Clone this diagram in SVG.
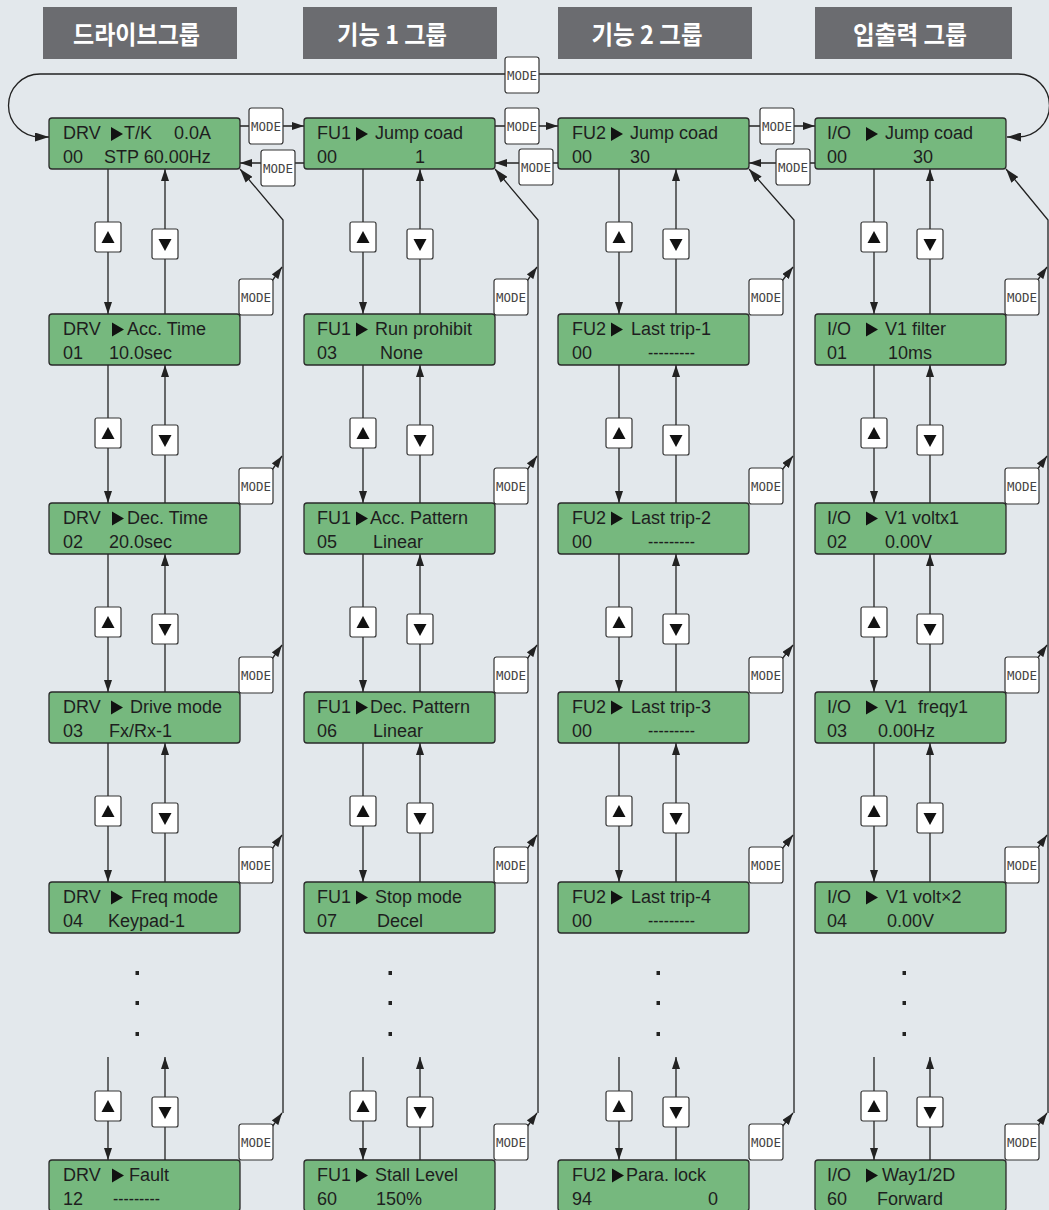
<svg xmlns="http://www.w3.org/2000/svg" width="1049" height="1210" viewBox="0 0 1049 1210">
<defs>
<style>
.hdr{fill:#6b6c70}
.ht{fill:#fff;font-family:"Noto Sans CJK KR",sans-serif;font-weight:700;font-size:25px;text-anchor:middle}
.box{fill:#76b87e;stroke:#2a2a2a;stroke-width:1.3}
.t{font-family:"Liberation Sans",Arial,sans-serif;font-size:18px;fill:#1e1e1e}
.btn{fill:#fff;stroke:#333;stroke-width:1.2}
.mt{font-family:"DejaVu Sans Mono",monospace;font-size:13px;fill:#444;text-anchor:middle}
.ln{stroke:#222;stroke-width:1.3;fill:none}
.tri{fill:#111}
.dot{fill:#222}
</style>
<marker id="ah" viewBox="0 0 12 8" refX="12" refY="4" markerWidth="12" markerHeight="8" markerUnits="userSpaceOnUse" orient="auto-start-reverse"><path d="M0,0 L12,4 L0,8 z" fill="#222"/></marker>
<marker id="ahb" viewBox="0 0 14 9" refX="14" refY="4.5" markerWidth="14" markerHeight="9" markerUnits="userSpaceOnUse" orient="auto-start-reverse"><path d="M0,0 L14,4.5 L0,9 z" fill="#222"/></marker>
<g id="mode"><rect class="btn" x="0" y="0" width="34" height="36" rx="2.5"/><text class="mt" x="17" y="23" textLength="30" lengthAdjust="spacingAndGlyphs">MODE</text></g>
<g id="up"><rect class="btn" x="0" y="0" width="26" height="30" rx="2"/><polygon class="tri" points="6.5,21 13,9 19.5,21"/></g>
<g id="dn"><rect class="btn" x="0" y="0" width="26" height="30" rx="2"/><polygon class="tri" points="6.5,10 19.5,10 13,22"/></g>
</defs>
<rect x="0" y="0" width="1049" height="1210" fill="#e3e8ec"/>

<g id="headers">
<rect class="hdr" x="43" y="7" width="194" height="52"/>
<text class="ht" x="136.5" y="44" textLength="127" lengthAdjust="spacingAndGlyphs">드라이브그룹</text>
<rect class="hdr" x="303" y="7" width="194" height="52"/>
<text class="ht" x="392" y="44" textLength="110" lengthAdjust="spacingAndGlyphs">기능 1 그룹</text>
<rect class="hdr" x="558" y="7" width="194" height="52"/>
<text class="ht" x="647" y="44" textLength="111" lengthAdjust="spacingAndGlyphs">기능 2 그룹</text>
<rect class="hdr" x="815" y="7" width="197" height="52"/>
<text class="ht" x="910" y="44" textLength="114" lengthAdjust="spacingAndGlyphs">입출력 그룹</text>
</g>

<g id="connectors">
<path class="ln" d="M49,137 L40,137 A31.5,31.5 0 0 1 40,74 L1018,74 A31.5,31.5 0 0 1 1018,137 L1007,137" marker-start="url(#ahb)" marker-end="url(#ahb)"/>
<line class="ln" x1="240" y1="126" x2="304" y2="126" marker-end="url(#ah)"/>
<line class="ln" x1="304" y1="163" x2="240" y2="163" marker-end="url(#ah)"/>
<line class="ln" x1="495" y1="126" x2="558" y2="126" marker-end="url(#ah)"/>
<line class="ln" x1="558" y1="163" x2="495" y2="163" marker-end="url(#ah)"/>
<line class="ln" x1="749" y1="126" x2="815" y2="126" marker-end="url(#ah)"/>
<line class="ln" x1="815" y1="163" x2="749" y2="163" marker-end="url(#ah)"/>

<path class="ln" d="M283,1113 L283,220 L240,169" marker-end="url(#ahb)"/>
<path class="ln" d="M538,1113 L538,220 L495,169" marker-end="url(#ahb)"/>
<path class="ln" d="M794,1113 L794,220 L749,169" marker-end="url(#ahb)"/>
<path class="ln" d="M1048,1113 L1048,220 L1006,169" marker-end="url(#ahb)"/>

<line class="ln" x1="272" y1="281" x2="282" y2="267" marker-end="url(#ah)"/>
<line class="ln" x1="272" y1="470" x2="282" y2="456" marker-end="url(#ah)"/>
<line class="ln" x1="272" y1="659" x2="282" y2="645" marker-end="url(#ah)"/>
<line class="ln" x1="272" y1="849" x2="282" y2="835" marker-end="url(#ah)"/>
<line class="ln" x1="272" y1="1127" x2="282" y2="1113" marker-end="url(#ah)"/>
<line class="ln" x1="527" y1="281" x2="537" y2="267" marker-end="url(#ah)"/>
<line class="ln" x1="527" y1="470" x2="537" y2="456" marker-end="url(#ah)"/>
<line class="ln" x1="527" y1="659" x2="537" y2="645" marker-end="url(#ah)"/>
<line class="ln" x1="527" y1="849" x2="537" y2="835" marker-end="url(#ah)"/>
<line class="ln" x1="527" y1="1127" x2="537" y2="1113" marker-end="url(#ah)"/>
<line class="ln" x1="782" y1="281" x2="793" y2="267" marker-end="url(#ah)"/>
<line class="ln" x1="782" y1="470" x2="793" y2="456" marker-end="url(#ah)"/>
<line class="ln" x1="782" y1="659" x2="793" y2="645" marker-end="url(#ah)"/>
<line class="ln" x1="782" y1="849" x2="793" y2="835" marker-end="url(#ah)"/>
<line class="ln" x1="782" y1="1127" x2="793" y2="1113" marker-end="url(#ah)"/>
<line class="ln" x1="1037" y1="281" x2="1047" y2="267" marker-end="url(#ah)"/>
<line class="ln" x1="1037" y1="470" x2="1047" y2="456" marker-end="url(#ah)"/>
<line class="ln" x1="1037" y1="659" x2="1047" y2="645" marker-end="url(#ah)"/>
<line class="ln" x1="1037" y1="849" x2="1047" y2="835" marker-end="url(#ah)"/>
<line class="ln" x1="1037" y1="1127" x2="1047" y2="1113" marker-end="url(#ah)"/>

<line class="ln" x1="108" y1="169" x2="108" y2="314" marker-end="url(#ah)"/>
<line class="ln" x1="165" y1="314" x2="165" y2="169" marker-end="url(#ah)"/>
<line class="ln" x1="108" y1="365" x2="108" y2="503" marker-end="url(#ah)"/>
<line class="ln" x1="165" y1="503" x2="165" y2="365" marker-end="url(#ah)"/>
<line class="ln" x1="108" y1="554" x2="108" y2="692" marker-end="url(#ah)"/>
<line class="ln" x1="165" y1="692" x2="165" y2="554" marker-end="url(#ah)"/>
<line class="ln" x1="108" y1="743" x2="108" y2="882" marker-end="url(#ah)"/>
<line class="ln" x1="165" y1="882" x2="165" y2="743" marker-end="url(#ah)"/>
<line class="ln" x1="108" y1="1057" x2="108" y2="1160" marker-end="url(#ah)"/>
<line class="ln" x1="165" y1="1160" x2="165" y2="1057" marker-end="url(#ah)"/>
<line class="ln" x1="363" y1="169" x2="363" y2="314" marker-end="url(#ah)"/>
<line class="ln" x1="420" y1="314" x2="420" y2="169" marker-end="url(#ah)"/>
<line class="ln" x1="363" y1="365" x2="363" y2="503" marker-end="url(#ah)"/>
<line class="ln" x1="420" y1="503" x2="420" y2="365" marker-end="url(#ah)"/>
<line class="ln" x1="363" y1="554" x2="363" y2="692" marker-end="url(#ah)"/>
<line class="ln" x1="420" y1="692" x2="420" y2="554" marker-end="url(#ah)"/>
<line class="ln" x1="363" y1="743" x2="363" y2="882" marker-end="url(#ah)"/>
<line class="ln" x1="420" y1="882" x2="420" y2="743" marker-end="url(#ah)"/>
<line class="ln" x1="363" y1="1057" x2="363" y2="1160" marker-end="url(#ah)"/>
<line class="ln" x1="420" y1="1160" x2="420" y2="1057" marker-end="url(#ah)"/>
<line class="ln" x1="619" y1="169" x2="619" y2="314" marker-end="url(#ah)"/>
<line class="ln" x1="676" y1="314" x2="676" y2="169" marker-end="url(#ah)"/>
<line class="ln" x1="619" y1="365" x2="619" y2="503" marker-end="url(#ah)"/>
<line class="ln" x1="676" y1="503" x2="676" y2="365" marker-end="url(#ah)"/>
<line class="ln" x1="619" y1="554" x2="619" y2="692" marker-end="url(#ah)"/>
<line class="ln" x1="676" y1="692" x2="676" y2="554" marker-end="url(#ah)"/>
<line class="ln" x1="619" y1="743" x2="619" y2="882" marker-end="url(#ah)"/>
<line class="ln" x1="676" y1="882" x2="676" y2="743" marker-end="url(#ah)"/>
<line class="ln" x1="619" y1="1057" x2="619" y2="1160" marker-end="url(#ah)"/>
<line class="ln" x1="676" y1="1160" x2="676" y2="1057" marker-end="url(#ah)"/>
<line class="ln" x1="874" y1="169" x2="874" y2="314" marker-end="url(#ah)"/>
<line class="ln" x1="930" y1="314" x2="930" y2="169" marker-end="url(#ah)"/>
<line class="ln" x1="874" y1="365" x2="874" y2="503" marker-end="url(#ah)"/>
<line class="ln" x1="930" y1="503" x2="930" y2="365" marker-end="url(#ah)"/>
<line class="ln" x1="874" y1="554" x2="874" y2="692" marker-end="url(#ah)"/>
<line class="ln" x1="930" y1="692" x2="930" y2="554" marker-end="url(#ah)"/>
<line class="ln" x1="874" y1="743" x2="874" y2="882" marker-end="url(#ah)"/>
<line class="ln" x1="930" y1="882" x2="930" y2="743" marker-end="url(#ah)"/>
<line class="ln" x1="874" y1="1057" x2="874" y2="1160" marker-end="url(#ah)"/>
<line class="ln" x1="930" y1="1160" x2="930" y2="1057" marker-end="url(#ah)"/>
</g>

<g id="buttons">
<use href="#mode" x="505" y="57"/>
<use href="#mode" x="249" y="108"/>
<use href="#mode" x="261" y="150"/>
<use href="#mode" x="505" y="108"/>
<use href="#mode" x="519" y="149"/>
<use href="#mode" x="760" y="108"/>
<use href="#mode" x="776" y="149"/>
<use href="#mode" x="239" y="279"/><use href="#mode" x="239" y="468"/><use href="#mode" x="239" y="657"/><use href="#mode" x="239" y="847"/><use href="#mode" x="239" y="1124"/>
<use href="#mode" x="494" y="279"/><use href="#mode" x="494" y="468"/><use href="#mode" x="494" y="657"/><use href="#mode" x="494" y="847"/><use href="#mode" x="494" y="1124"/>
<use href="#mode" x="749" y="279"/><use href="#mode" x="749" y="468"/><use href="#mode" x="749" y="657"/><use href="#mode" x="749" y="847"/><use href="#mode" x="749" y="1124"/>
<use href="#mode" x="1005" y="279"/><use href="#mode" x="1005" y="468"/><use href="#mode" x="1005" y="657"/><use href="#mode" x="1005" y="847"/><use href="#mode" x="1005" y="1124"/>
<use href="#up" x="95" y="222"/><use href="#dn" x="152" y="229"/>
<use href="#up" x="95" y="418"/><use href="#dn" x="152" y="425"/>
<use href="#up" x="95" y="607"/><use href="#dn" x="152" y="614"/>
<use href="#up" x="95" y="796"/><use href="#dn" x="152" y="803"/>
<use href="#up" x="95" y="1091"/><use href="#dn" x="152" y="1097"/>
<use href="#up" x="350" y="222"/><use href="#dn" x="407" y="229"/>
<use href="#up" x="350" y="418"/><use href="#dn" x="407" y="425"/>
<use href="#up" x="350" y="607"/><use href="#dn" x="407" y="614"/>
<use href="#up" x="350" y="796"/><use href="#dn" x="407" y="803"/>
<use href="#up" x="350" y="1091"/><use href="#dn" x="407" y="1097"/>
<use href="#up" x="606" y="222"/><use href="#dn" x="663" y="229"/>
<use href="#up" x="606" y="418"/><use href="#dn" x="663" y="425"/>
<use href="#up" x="606" y="607"/><use href="#dn" x="663" y="614"/>
<use href="#up" x="606" y="796"/><use href="#dn" x="663" y="803"/>
<use href="#up" x="606" y="1091"/><use href="#dn" x="663" y="1097"/>
<use href="#up" x="861" y="222"/><use href="#dn" x="917" y="229"/>
<use href="#up" x="861" y="418"/><use href="#dn" x="917" y="425"/>
<use href="#up" x="861" y="607"/><use href="#dn" x="917" y="614"/>
<use href="#up" x="861" y="796"/><use href="#dn" x="917" y="803"/>
<use href="#up" x="861" y="1091"/><use href="#dn" x="917" y="1097"/>
</g>

<g id="dots">
<rect class="dot" x="135.5" y="971" width="3.5" height="4"/><rect class="dot" x="135.5" y="1001" width="3.5" height="4"/><rect class="dot" x="135.5" y="1032" width="3.5" height="4"/>
<rect class="dot" x="388.5" y="971" width="3.5" height="4"/><rect class="dot" x="388.5" y="1001" width="3.5" height="4"/><rect class="dot" x="388.5" y="1032" width="3.5" height="4"/>
<rect class="dot" x="656.5" y="971" width="3.5" height="4"/><rect class="dot" x="656.5" y="1001" width="3.5" height="4"/><rect class="dot" x="656.5" y="1032" width="3.5" height="4"/>
<rect class="dot" x="902.5" y="971" width="3.5" height="4"/><rect class="dot" x="902.5" y="1001" width="3.5" height="4"/><rect class="dot" x="902.5" y="1032" width="3.5" height="4"/>
</g>

<g id="drv00"><rect class="box" x="49" y="118" width="191" height="51" rx="3"/><polygon class="tri" points="111,127 123,134 111,141"/>
<text class="t" x="63" y="139">DRV</text><text class="t" x="124" y="139">T/K</text><text class="t" x="174" y="139">0.0A</text>
<text class="t" x="63" y="163">00</text><text class="t" x="104" y="163">STP 60.00Hz</text></g>
<g id="drv01"><rect class="box" x="49" y="314" width="191" height="51" rx="3"/><polygon class="tri" points="112,322.5 124,329.5 112,336.5"/>
<text class="t" x="63" y="335">DRV</text><text class="t" x="127" y="335">Acc. Time</text>
<text class="t" x="63" y="359">01</text><text class="t" x="109" y="359">10.0sec</text></g>
<g id="drv02"><rect class="box" x="49" y="503" width="191" height="51" rx="3"/><polygon class="tri" points="112,511.5 124,518.5 112,525.5"/>
<text class="t" x="63" y="524">DRV</text><text class="t" x="127" y="524">Dec. Time</text>
<text class="t" x="63" y="548">02</text><text class="t" x="109" y="548">20.0sec</text></g>
<g id="drv03"><rect class="box" x="49" y="692" width="191" height="51" rx="3"/><polygon class="tri" points="111,700.5 123,707.5 111,714.5"/>
<text class="t" x="63" y="713">DRV</text><text class="t" x="130" y="713">Drive mode</text>
<text class="t" x="63" y="737">03</text><text class="t" x="109" y="737">Fx/Rx-1</text></g>
<g id="drv04"><rect class="box" x="49" y="882" width="191" height="51" rx="3"/><polygon class="tri" points="111,890.5 123,897.5 111,904.5"/>
<text class="t" x="63" y="903">DRV</text><text class="t" x="131" y="903">Freq mode</text>
<text class="t" x="63" y="927">04</text><text class="t" x="108" y="927">Keypad-1</text></g>
<g id="drv12"><rect class="box" x="49" y="1160" width="191" height="51" rx="3"/><polygon class="tri" points="112,1168.5 124,1175.5 112,1182.5"/>
<text class="t" x="63" y="1181">DRV</text><text class="t" x="129" y="1181">Fault</text>
<text class="t" x="63" y="1205">12</text><text class="t" x="113" y="1205" textLength="47" lengthAdjust="spacingAndGlyphs">---------</text></g>

<g id="fu100"><rect class="box" x="304" y="118" width="191" height="51" rx="3"/><polygon class="tri" points="356,127 368,134 356,141"/>
<text class="t" x="317" y="139">FU1</text><text class="t" x="375" y="139">Jump coad</text>
<text class="t" x="317" y="163">00</text><text class="t" x="415" y="163">1</text></g>
<g id="fu103"><rect class="box" x="304" y="314" width="191" height="51" rx="3"/><polygon class="tri" points="356,322.5 368,329.5 356,336.5"/>
<text class="t" x="317" y="335">FU1</text><text class="t" x="375" y="335">Run prohibit</text>
<text class="t" x="317" y="359">03</text><text class="t" x="380" y="359">None</text></g>
<g id="fu105"><rect class="box" x="304" y="503" width="191" height="51" rx="3"/><polygon class="tri" points="356,511.5 368,518.5 356,525.5"/>
<text class="t" x="317" y="524">FU1</text><text class="t" x="370" y="524">Acc. Pattern</text>
<text class="t" x="317" y="548">05</text><text class="t" x="373" y="548">Linear</text></g>
<g id="fu106"><rect class="box" x="304" y="692" width="191" height="51" rx="3"/><polygon class="tri" points="356,700.5 368,707.5 356,714.5"/>
<text class="t" x="317" y="713">FU1</text><text class="t" x="370" y="713">Dec. Pattern</text>
<text class="t" x="317" y="737">06</text><text class="t" x="373" y="737">Linear</text></g>
<g id="fu107"><rect class="box" x="304" y="882" width="191" height="51" rx="3"/><polygon class="tri" points="356,890.5 368,897.5 356,904.5"/>
<text class="t" x="317" y="903">FU1</text><text class="t" x="375" y="903">Stop mode</text>
<text class="t" x="317" y="927">07</text><text class="t" x="377" y="927">Decel</text></g>
<g id="fu160"><rect class="box" x="304" y="1160" width="191" height="51" rx="3"/><polygon class="tri" points="356,1168.5 368,1175.5 356,1182.5"/>
<text class="t" x="317" y="1181">FU1</text><text class="t" x="375" y="1181">Stall Level</text>
<text class="t" x="317" y="1205">60</text><text class="t" x="376" y="1205">150%</text></g>

<g id="fu200"><rect class="box" x="558" y="118" width="191" height="51" rx="3"/><polygon class="tri" points="611,127 623,134 611,141"/>
<text class="t" x="572" y="139">FU2</text><text class="t" x="630" y="139">Jump coad</text>
<text class="t" x="572" y="163">00</text><text class="t" x="630" y="163">30</text></g>
<g id="fu2t1"><rect class="box" x="558" y="314" width="191" height="51" rx="3"/><polygon class="tri" points="611,322.5 623,329.5 611,336.5"/>
<text class="t" x="572" y="335">FU2</text><text class="t" x="631" y="335">Last trip-1</text>
<text class="t" x="572" y="359">00</text><text class="t" x="648" y="359" textLength="47" lengthAdjust="spacingAndGlyphs">---------</text></g>
<g id="fu2t2"><rect class="box" x="558" y="503" width="191" height="51" rx="3"/><polygon class="tri" points="611,511.5 623,518.5 611,525.5"/>
<text class="t" x="572" y="524">FU2</text><text class="t" x="631" y="524">Last trip-2</text>
<text class="t" x="572" y="548">00</text><text class="t" x="648" y="548" textLength="47" lengthAdjust="spacingAndGlyphs">---------</text></g>
<g id="fu2t3"><rect class="box" x="558" y="692" width="191" height="51" rx="3"/><polygon class="tri" points="611,700.5 623,707.5 611,714.5"/>
<text class="t" x="572" y="713">FU2</text><text class="t" x="631" y="713">Last trip-3</text>
<text class="t" x="572" y="737">00</text><text class="t" x="648" y="737" textLength="47" lengthAdjust="spacingAndGlyphs">---------</text></g>
<g id="fu2t4"><rect class="box" x="558" y="882" width="191" height="51" rx="3"/><polygon class="tri" points="611,890.5 623,897.5 611,904.5"/>
<text class="t" x="572" y="903">FU2</text><text class="t" x="631" y="903">Last trip-4</text>
<text class="t" x="572" y="927">00</text><text class="t" x="648" y="927" textLength="47" lengthAdjust="spacingAndGlyphs">---------</text></g>
<g id="fu294"><rect class="box" x="558" y="1160" width="191" height="51" rx="3"/><polygon class="tri" points="612,1168.5 624,1175.5 612,1182.5"/>
<text class="t" x="572" y="1181">FU2</text><text class="t" x="626" y="1181">Para. lock</text>
<text class="t" x="572" y="1205">94</text><text class="t" x="708" y="1205">0</text></g>

<g id="io00"><rect class="box" x="815" y="118" width="191" height="51" rx="3"/><polygon class="tri" points="866,127 878,134 866,141"/>
<text class="t" x="827" y="139">I/O</text><text class="t" x="885" y="139">Jump coad</text>
<text class="t" x="827" y="163">00</text><text class="t" x="913" y="163">30</text></g>
<g id="io01"><rect class="box" x="815" y="314" width="191" height="51" rx="3"/><polygon class="tri" points="866,322.5 878,329.5 866,336.5"/>
<text class="t" x="827" y="335">I/O</text><text class="t" x="885" y="335">V1 filter</text>
<text class="t" x="827" y="359">01</text><text class="t" x="888" y="359">10ms</text></g>
<g id="io02"><rect class="box" x="815" y="503" width="191" height="51" rx="3"/><polygon class="tri" points="866,511.5 878,518.5 866,525.5"/>
<text class="t" x="827" y="524">I/O</text><text class="t" x="885" y="524">V1 voltx1</text>
<text class="t" x="827" y="548">02</text><text class="t" x="885" y="548">0.00V</text></g>
<g id="io03"><rect class="box" x="815" y="692" width="191" height="51" rx="3"/><polygon class="tri" points="866,700.5 878,707.5 866,714.5"/>
<text class="t" x="827" y="713">I/O</text><text class="t" x="885" y="713">V1</text><text class="t" x="918" y="713">freqy1</text>
<text class="t" x="827" y="737">03</text><text class="t" x="878" y="737">0.00Hz</text></g>
<g id="io04"><rect class="box" x="815" y="882" width="191" height="51" rx="3"/><polygon class="tri" points="866,890.5 878,897.5 866,904.5"/>
<text class="t" x="827" y="903">I/O</text><text class="t" x="886" y="903">V1 volt×2</text>
<text class="t" x="827" y="927">04</text><text class="t" x="887" y="927">0.00V</text></g>
<g id="io60"><rect class="box" x="815" y="1160" width="191" height="51" rx="3"/><polygon class="tri" points="866,1168.5 878,1175.5 866,1182.5"/>
<text class="t" x="827" y="1181">I/O</text><text class="t" x="882" y="1181">Way1/2D</text>
<text class="t" x="827" y="1205">60</text><text class="t" x="877" y="1205">Forward</text></g>
</svg>
